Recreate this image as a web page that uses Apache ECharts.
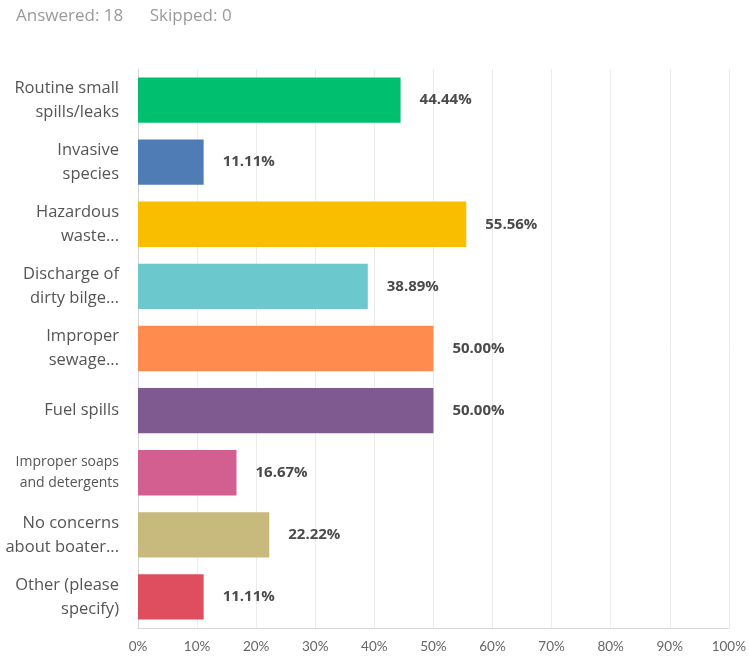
<!DOCTYPE html>
<html><head><meta charset="utf-8">
<script src="https://cdn.jsdelivr.net/npm/echarts@6/dist/echarts.min.js"></script>
<style>html,body{margin:0;padding:0;background:#fff}#c{width:749px;height:656px}</style>
</head><body><div id="c"></div>
<script>
const categories = [
  "Routine small\nspills/leaks",
  "Invasive\nspecies",
  "Hazardous\nwaste...",
  "Discharge of\ndirty bilge...",
  "Improper\nsewage...",
  "Fuel spills",
  "Improper soaps\nand detergents",
  "No concerns\nabout boater...",
  "Other (please\nspecify)"
];
const values = [44.44, 11.11, 55.56, 38.89, 50.00, 50.00, 16.67, 22.22, 11.11];
const colors = ["#00BF6F", "#507CB6", "#F9BE00", "#6BC8CD", "#FF8B4F", "#7F5A91", "#D25F90", "#C8B97C", "#DE4E5E"];
const xTicks = [0,10,20,30,40,50,60,70,80,90,100];
const smallLabels = ["Improper soaps\nand detergents"];

const chart = echarts.init(document.getElementById('c'));
chart.setOption({
  animation: false,
  title: {
    text: "Answered: 18      Skipped: 0",
    left: 11, top: 3,
    textStyle: {fontFamily: "Open Sans", fontSize: 17, fontWeight: "normal", color: "#9a9a9a"}
  },
  grid: {left: 138, right: 16, top: 69, bottom: 28, containLabel: false},
  xAxis: {
    type: "value", min: 0, max: 100, interval: 10,
    axisLine: {show: true, lineStyle: {color: "#d6d6d6", width: 1}},
    axisTick: {show: false},
    splitLine: {show: true, lineStyle: {color: "#ececec", width: 1}},
    axisLabel: {
      formatter: v => xTicks.includes(v) ? v + "%" : "",
      fontFamily: "Lato", fontSize: 13.5, color: "#666", margin: 12
    }
  },
  yAxis: {
    type: "category", data: categories, inverse: true,
    axisLine: {show: true, lineStyle: {color: "#d6d6d6", width: 1}},
    axisTick: {show: false},
    axisLabel: {
      margin: 19, align: "right",
      formatter: v => smallLabels.includes(v) ? "{s|" + v.split("\n").join("}\n{s|") + "}" : "{n|" + v.split("\n").join("}\n{n|") + "}",
      rich: {
        n: {fontFamily: "Open Sans", fontSize: 16.5, color: "#555", lineHeight: 24, align: "right"},
        s: {fontFamily: "Open Sans", fontSize: 14, color: "#555", lineHeight: 21, align: "right"}
      }
    }
  },
  series: [{
    type: "bar",
    data: values.map((v, i) => ({value: v, itemStyle: {color: colors[i]}})),
    barCategoryGap: "27%",
    label: {
      show: true, position: "right", distance: 19,
      formatter: p => p.value.toFixed(2) + "%",
      fontFamily: "Open Sans", fontSize: 15, fontWeight: "bold", color: "#4a4a4a"
    }
  }]
});
</script></body></html>
